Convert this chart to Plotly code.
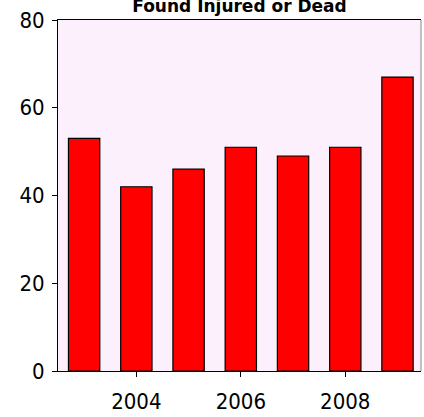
import plotly.graph_objects as go

years = [2003, 2004, 2005, 2006, 2007, 2008, 2009]
counts = [53, 42, 46, 51, 49, 51, 67]
x_ticks = [2004, 2006, 2008]
y_ticks = [0, 20, 40, 60, 80]
title_text = "Found Injured or Dead"

tick_font = dict(family="DejaVu Sans Condensed, Liberation Sans Narrow, Arial Narrow, Liberation Sans, sans-serif",
                 size=22, color="black")

fig = go.Figure(
    go.Bar(
        x=years,
        y=counts,
        marker=dict(color="#FF0000", line=dict(color="black", width=1.2)),
        width=0.6,
    )
)

fig.update_layout(
    width=424,
    height=417,
    margin=dict(l=58, r=3, t=20, b=44),
    paper_bgcolor="white",
    plot_bgcolor="#FCF0FC",
    showlegend=False,
    title=dict(
        text="<b>" + title_text + "</b>",
        x=(58 + 421) / 2 / 424,
        xanchor="center",
        y=1 - 6 / 417,
        yanchor="middle",
        font=dict(family="DejaVu Sans, sans-serif", size=17, color="black"),
    ),
    shapes=[
        dict(type="line", xref="paper", yref="paper", x0=1, x1=1, y0=0, y1=1,
             line=dict(color="#888888", width=1)),
    ],
)

fig.update_xaxes(
    range=[2002.5, 2009.45],
    tickvals=x_ticks,
    ticktext=[str(v) for v in x_ticks],
    ticks="outside",
    ticklen=5,
    tickcolor="black",
    ticklabelstandoff=6,
    showline=True,
    linecolor="black",
    linewidth=1,
    mirror=True,
    showgrid=False,
    zeroline=False,
    tickfont=tick_font,
)

fig.update_yaxes(
    range=[0, 80],
    tickvals=y_ticks,
    ticks="outside",
    ticklen=5,
    tickcolor="black",
    ticklabelstandoff=3,
    showline=True,
    linecolor="black",
    linewidth=1,
    showgrid=False,
    zeroline=False,
    tickfont=tick_font,
)

fig.write_html(
    "out.html",
    config={"displayModeBar": False},
    post_script="document.body.style.margin='0';document.body.style.overflow='hidden';",
)
